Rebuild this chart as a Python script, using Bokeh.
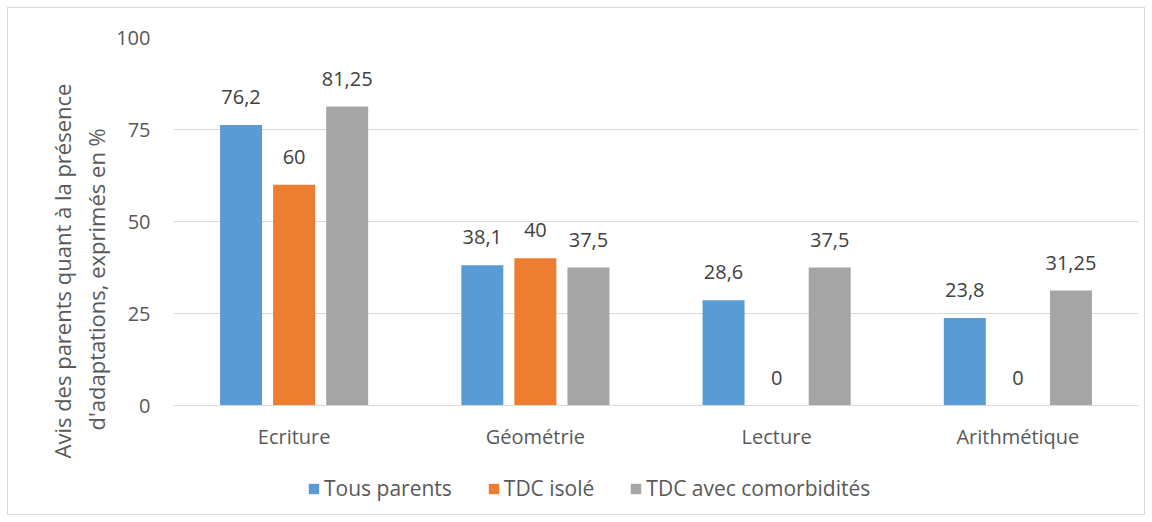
from bokeh.plotting import figure
from bokeh.layouts import column
from bokeh.models import ColumnDataSource, FactorRange, Range1d, LabelSet, Legend, Title, FixedTicker
from bokeh.transform import dodge
from bokeh.core.properties import value
from bokeh.embed import file_html
from bokeh.resources import INLINE

categories = ["Ecriture", "Géométrie", "Lecture", "Arithmétique"]
tous_parents = [76.2, 38.1, 28.6, 23.8]
tdc_isole = [60, 40, 0, 0]
tdc_comorb = [81.25, 37.5, 37.5, 31.25]
series_names = ["Tous parents", "TDC isolé", "TDC avec comorbidités"]
y_ticks = [0, 25, 50, 75, 100]

def fmt(v):
    return f"{v:g}".replace(".", ",")

FONT = "Open Sans"
colors = ["#5B9BD5", "#ED7D31", "#A5A5A5"]
offsets = [-0.22, 0.0, 0.22]

p = figure(width=1136, height=452, x_range=FactorRange(*categories, range_padding=0),
           y_range=Range1d(0, 100), output_backend="svg", toolbar_location=None,
           min_border_left=165, min_border_right=6, min_border_top=29, min_border_bottom=55)
p.outline_line_color = None

# legend strip: separate figure sharing the x range, with its y range far above the data
q = figure(width=1136, height=54, x_range=p.x_range, y_range=Range1d(1000, 1001),
           output_backend="svg", toolbar_location=None,
           x_axis_location=None, y_axis_location=None,
           min_border_left=0, min_border_right=0, min_border_top=0, min_border_bottom=0)
q.outline_line_color = None
q.xgrid.grid_line_color = None
q.ygrid.grid_line_color = None

items = []
for vals, name, col, off in zip([tous_parents, tdc_isole, tdc_comorb], series_names, colors, offsets):
    src = ColumnDataSource(dict(cat=categories, v=vals, lab=[fmt(v) for v in vals]))
    p.vbar(x=dodge("cat", off, range=p.x_range), top="v", width=0.174, source=src,
           fill_color=col, line_color=None)
    ls = LabelSet(x=dodge("cat", off, range=p.x_range), y="v", text="lab", source=src,
                  text_align="center", text_baseline="bottom", y_offset=21,
                  text_font=value(FONT), text_font_size="20px", text_color="#404040")
    p.add_layout(ls)
    r = q.vbar(x=dodge("cat", off, range=p.x_range), top="v", width=0.174, source=src,
               fill_color=col, line_color=None)
    items.append((name, [r]))

p.xgrid.grid_line_color = None
p.ygrid.grid_line_color = "#d9d9d9"
p.ygrid.grid_line_width = 1
p.yaxis.ticker = FixedTicker(ticks=y_ticks)
p.yaxis.axis_line_color = None
p.yaxis.major_tick_line_color = None
p.yaxis.minor_tick_line_color = None
p.yaxis.major_label_standoff = 17
p.xaxis.axis_line_color = "#d9d9d9"
p.xaxis.major_tick_line_color = None
p.xaxis.minor_tick_line_color = None
p.xaxis.major_label_standoff = 11
for ax in (p.xaxis, p.yaxis):
    ax.major_label_text_font = FONT
    ax.major_label_text_font_size = "20px"
    ax.major_label_text_color = "#595959"

t2 = Title(text="d'adaptations, exprimés en %", align="left", offset=-25, standoff=5,
           text_font=FONT, text_font_size="22px", text_font_style="normal", text_color="#595959")
t1 = Title(text="Avis des parents quant à la présence", align="left", offset=-53, standoff=0,
           text_font=FONT, text_font_size="22px", text_font_style="normal", text_color="#595959")
p.add_layout(t2, "left")
p.add_layout(t1, "left")

legend = Legend(items=items, orientation="horizontal", location=(134, 12),
                label_text_font=FONT, label_text_font_size="21px", label_text_color="#595959",
                glyph_width=13, glyph_height=13, label_standoff=4, spacing=35, label_height=27,
                border_line_color=None, background_fill_color=None, margin=0, padding=0)
q.add_layout(legend)

layout = column(p, q, spacing=0,
                styles={"margin-left": "7px", "margin-top": "7px", "border": "1px solid #d9d9d9"})

open("out.html", "w").write(file_html(layout, INLINE))
